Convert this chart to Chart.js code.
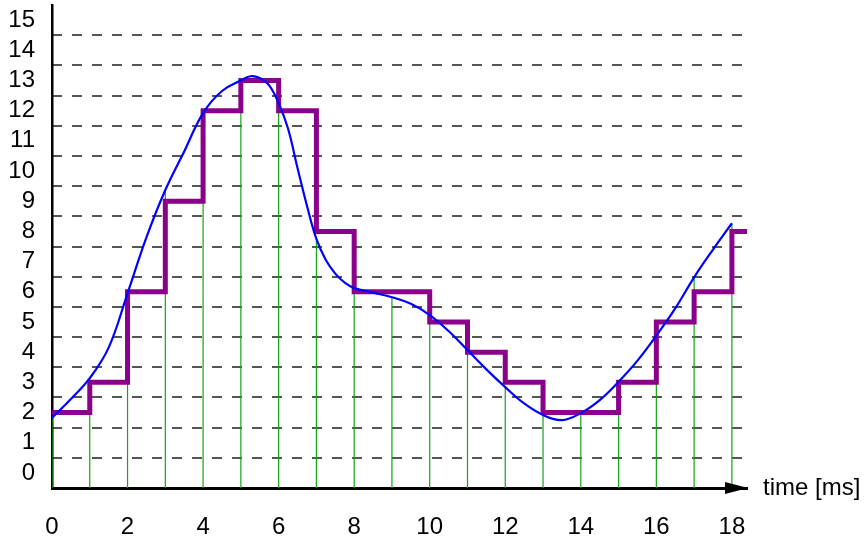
<!DOCTYPE html>
<html>
<head>
<meta charset="utf-8">
<script src="https://cdn.jsdelivr.net/npm/chart.js@4/dist/chart.umd.min.js"></script>
<style>
html,body{margin:0;padding:0;background:#fff;}
#wrap{width:868px;height:538px;position:relative;}
</style>
</head>
<body>
<div id="wrap"><canvas id="c"></canvas></div>
<script>
// ---- data ----
const sampleTimes    = [0,1,2,3,4,5,6,7,8,9,10,11,12,13,14,15,16,17,18];
const sampleValues   = [1.82,3.14,5.95,9.37,11.92,13.0,12.25,7.75,6.12,5.82,5.23,4.07,2.84,1.92,1.98,3.02,4.55,6.48,8.27];
const quantizedLevels= [2,3,6,9,12,13,12,8,6,6,5,4,3,2,2,3,5,6,8];
const signalTimes    = [0,0.5,1,1.5,2,2.5,3,3.5,4,4.5,5,5.25,5.5,5.75,6,6.25,6.5,6.75,7,7.25,7.5,7.75,8,8.5,9,9.5,10,10.5,11,11.5,12,12.5,13,13.5,14,14.5,15,15.5,16,16.5,17,17.5,18];
const signalValues   = [1.82,2.45,3.14,4.15,5.95,7.8,9.37,10.65,11.92,12.65,13.0,13.14,13.08,12.84,12.25,11.4,10.1,8.85,7.75,7.05,6.6,6.3,6.12,5.97,5.82,5.6,5.23,4.7,4.07,3.43,2.84,2.3,1.92,1.75,1.98,2.41,3.02,3.72,4.55,5.45,6.48,7.4,8.27];
const xTickValues    = [0,2,4,6,8,10,12,14,16,18];
const yTickValues    = [0,1,2,3,4,5,6,7,8,9,10,11,12,13,14,15];
const gridLineValues = [0.5,1.5,2.5,3.5,4.5,5.5,6.5,7.5,8.5,9.5,10.5,11.5,12.5,13.5,14.5];
const xAxisLabel     = 'time [ms]';

const X_MIN = 0, X_MAX = 18.4, Y_MIN = -0.5, Y_MAX = 15.5;
const FONT = '"Liberation Sans", Arial, Helvetica, sans-serif';

// ---- derived datasets ----
const stemData = [];
sampleTimes.forEach((t, i) => {
  stemData.push({x: t, y: Y_MIN}, {x: t, y: sampleValues[i]}, {x: t, y: null});
});
const stepData = sampleTimes.map((t, i) => ({x: t, y: quantizedLevels[i]}));
stepData.push({x: X_MAX, y: quantizedLevels[quantizedLevels.length - 1]});
const signalData = signalTimes.map((t, i) => ({x: t, y: signalValues[i]}));

const axisDecor = {
  id: 'axisDecor',
  afterDraw(chart) {
    const ctx = chart.ctx;
    const y0 = chart.scales.y.getPixelForValue(Y_MIN);
    const xEnd = chart.scales.x.getPixelForValue(X_MAX) + 1;
    ctx.save();
    ctx.fillStyle = '#000';
    ctx.beginPath();
    ctx.moveTo(xEnd, y0);
    ctx.lineTo(xEnd - 23, y0 - 6);
    ctx.lineTo(xEnd - 23, y0 + 6);
    ctx.closePath();
    ctx.fill();
    ctx.font = '24px ' + FONT;
    ctx.textBaseline = 'middle';
    ctx.textAlign = 'left';
    ctx.fillText(xAxisLabel, xEnd + 15, y0);
    ctx.restore();
  }
};

new Chart(document.getElementById('c'), {
  type: 'line',
  data: {
    datasets: [
      { label: 'samples', data: stemData, yAxisID: 'y', borderColor: 'rgb(20,165,20)', borderWidth: 1.2,
        pointRadius: 0, spanGaps: false, order: 3, tension: 0 },
      { label: 'quantized', data: stepData, yAxisID: 'y', borderColor: '#8b008b', borderWidth: 5,
        pointRadius: 0, stepped: true, borderJoinStyle: 'miter', borderCapStyle: 'butt', order: 2 },
      { label: 'signal', data: signalData, yAxisID: 'y', borderColor: '#0000ff', borderWidth: 2.2,
        pointRadius: 0, tension: 0.4, order: 1 }
    ]
  },
  options: {
    responsive: true,
    maintainAspectRatio: false,
    animation: false,
    devicePixelRatio: 1,
    layout: { padding: { left: 0, top: 5, right: 121, bottom: 0 } },
    plugins: { legend: { display: false }, tooltip: { enabled: false } },
    scales: {
      x: {
        type: 'linear', position: 'bottom', min: X_MIN, max: X_MAX,
        afterBuildTicks: s => { s.ticks = xTickValues.map(v => ({value: v})); },
        afterFit: s => { s.height = 50; s.paddingLeft = 0; s.paddingRight = 0; },
        grid: { display: false, drawTicks: false },
        border: { display: true, color: '#000', width: 3 },
        ticks: { padding: 25, color: '#000', autoSkip: false, maxRotation: 0,
                 font: { family: FONT, size: 24 }, callback: v => String(v) },
        z: 1
      },
      y: {
        type: 'linear', position: 'left', min: Y_MIN, max: Y_MAX,
        afterBuildTicks: s => { s.ticks = yTickValues.map(v => ({value: v})); },
        afterFit: s => { s.width = 52; s.paddingTop = 0; s.paddingBottom = 0; },
        grid: { display: false, drawTicks: false },
        border: { display: true, color: '#000', width: 2.5 },
        ticks: { padding: 17, color: '#000', autoSkip: false,
                 font: { family: FONT, size: 24 }, callback: v => String(v) },
        z: 1
      },
      yg: {
        type: 'linear', position: 'left', min: Y_MIN, max: Y_MAX,
        afterBuildTicks: s => { s.ticks = gridLineValues.map(v => ({value: v})); },
        afterFit: s => { s.width = 0; s.paddingTop = 0; s.paddingBottom = 0; },
        grid: { display: true, color: '#555', lineWidth: 2, drawTicks: false },
        border: { display: false, dash: [10, 10] },
        ticks: { display: false }
      }
    }
  },
  plugins: [axisDecor]
});
</script>
</body>
</html>
